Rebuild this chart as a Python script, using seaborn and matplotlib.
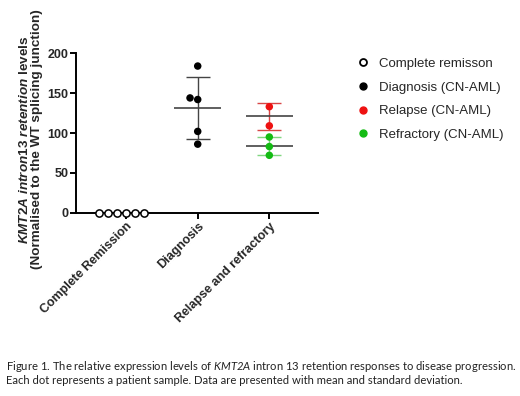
import numpy as np
import pandas as pd
import seaborn as sns
import matplotlib.pyplot as plt
from matplotlib.lines import Line2D

# data
groups = ["Complete Remission", "Diagnosis", "Relapse and refractory"]
remission = [0, 0, 0, 0, 0, 0]
diagnosis = [184, 144, 142, 102, 86]
relapse = [133, 109]
refractory = [95, 83, 72]

legend_labels = ["Complete remisson", "Diagnosis (CN-AML)",
                 "Relapse (CN-AML)", "Refractory (CN-AML)"]
yticks = [0, 50, 100, 150, 200]

sns.set_theme(style="ticks")
plt.rcParams["font.family"] = ["Liberation Sans", "DejaVu Sans"]
plt.rcParams["mathtext.fontset"] = "custom"
plt.rcParams["mathtext.it"] = "Liberation Sans:italic:bold"
plt.rcParams["mathtext.rm"] = "Liberation Sans:bold"
plt.rcParams["mathtext.sf"] = "Lato:italic"

df = pd.DataFrame({
    "group": [groups[1]] * len(diagnosis) + [groups[2]] * (len(relapse) + len(refractory)),
    "value": diagnosis + relapse + refractory,
    "status": ["dx"] * len(diagnosis) + ["rel"] * len(relapse) + ["ref"] * len(refractory),
})
cr = pd.DataFrame({"group": [groups[0]] * len(remission), "value": remission})

pt_colors = {"dx": "black", "rel": "#ee1111", "ref": "#14bb14"}
bar_colors = {"dx": "#444444", "rel": "#d94646", "ref": "#7fd67f"}

fig = plt.figure(figsize=(5.2, 3.96), dpi=100)
ax = fig.add_axes([76 / 520, 1 - 212.7 / 396, 242 / 520, 159.4 / 396])

sns.swarmplot(data=cr, x="group", y="value", order=groups, ax=ax,
              color="white", edgecolor="black", linewidth=1.1, size=5.2)
sns.swarmplot(data=df, x="group", y="value", hue="status", order=groups,
              palette=pt_colors, ax=ax, size=5.4, legend=False, linewidth=0)
for c in ax.collections:
    c.set_clip_on(False)
    c.set_zorder(5)

# mean and SD per subgroup
stats = [(1, diagnosis, "dx"), (2, relapse, "rel"), (2, refractory, "ref")]
for pos, vals, key in stats:
    m = np.mean(vals)
    s = np.std(vals, ddof=1)
    ax.errorbar(pos, m, yerr=s, fmt="none", ecolor=bar_colors[key],
                elinewidth=1.0, capsize=8.5, capthick=1.0, zorder=3)
    ax.hlines(m, pos - 0.33, pos + 0.33, color="#444444", lw=1.2, zorder=3)

ax.set_xlim(-0.7, 2.68)
ax.set_ylim(0, 200)
ax.set_yticks(yticks)
ax.set_yticklabels([str(t) for t in yticks], fontsize=9, fontweight="bold")
ax.set_xticks(range(len(groups)))
ax.set_xticklabels(groups, rotation=45, ha="right", rotation_mode="anchor",
                   fontsize=9, fontweight="bold")
ax.set_xlabel("")
ax.set_ylabel(r"$\mathit{KMT2A\ intron13\ retention}$ levels" + "\n"
              "(Normalised to the WT splicing junction)",
              fontsize=9.7, fontweight="bold", linespacing=1.0)
ax.yaxis.set_label_coords(-0.135, 0.46)
sns.despine(ax=ax)
for sp in ["left", "bottom"]:
    ax.spines[sp].set_linewidth(1.4)
    ax.spines[sp].set_color("black")
ax.tick_params(width=1.4, length=4, color="black", pad=1.5)

handles = [
    Line2D([], [], ls="", marker="o", ms=5, mfc="white", mec="black", mew=1.3),
    Line2D([], [], ls="", marker="o", ms=5, mfc="black", mec="black"),
    Line2D([], [], ls="", marker="o", ms=5, mfc=pt_colors["rel"], mec=pt_colors["rel"]),
    Line2D([], [], ls="", marker="o", ms=5, mfc=pt_colors["ref"], mec=pt_colors["ref"]),
]
fig.legend(handles, legend_labels, loc="upper left",
           bbox_to_anchor=(345 / 520, 1 - 46 / 396), frameon=False,
           fontsize=9.5, handletextpad=0.7, labelspacing=0.86, handlelength=1.0)

cap1 = ("Figure 1. The relative expression levels of $\\mathsf{KMT2A}$ intron 13 "
        "retention responses to disease progression.")
cap2 = "Each dot represents a patient sample. Data are presented with mean and standard deviation."
fig.text(6 / 520, 1 - 366 / 396, cap1, fontsize=8.1, family=["Lato", "DejaVu Sans"],
         va="center", color="#222222")
fig.text(6 / 520, 1 - 381 / 396, cap2, fontsize=8.1, family=["Lato", "DejaVu Sans"],
         va="center", color="#222222")

fig.savefig("out.png", dpi=100)
